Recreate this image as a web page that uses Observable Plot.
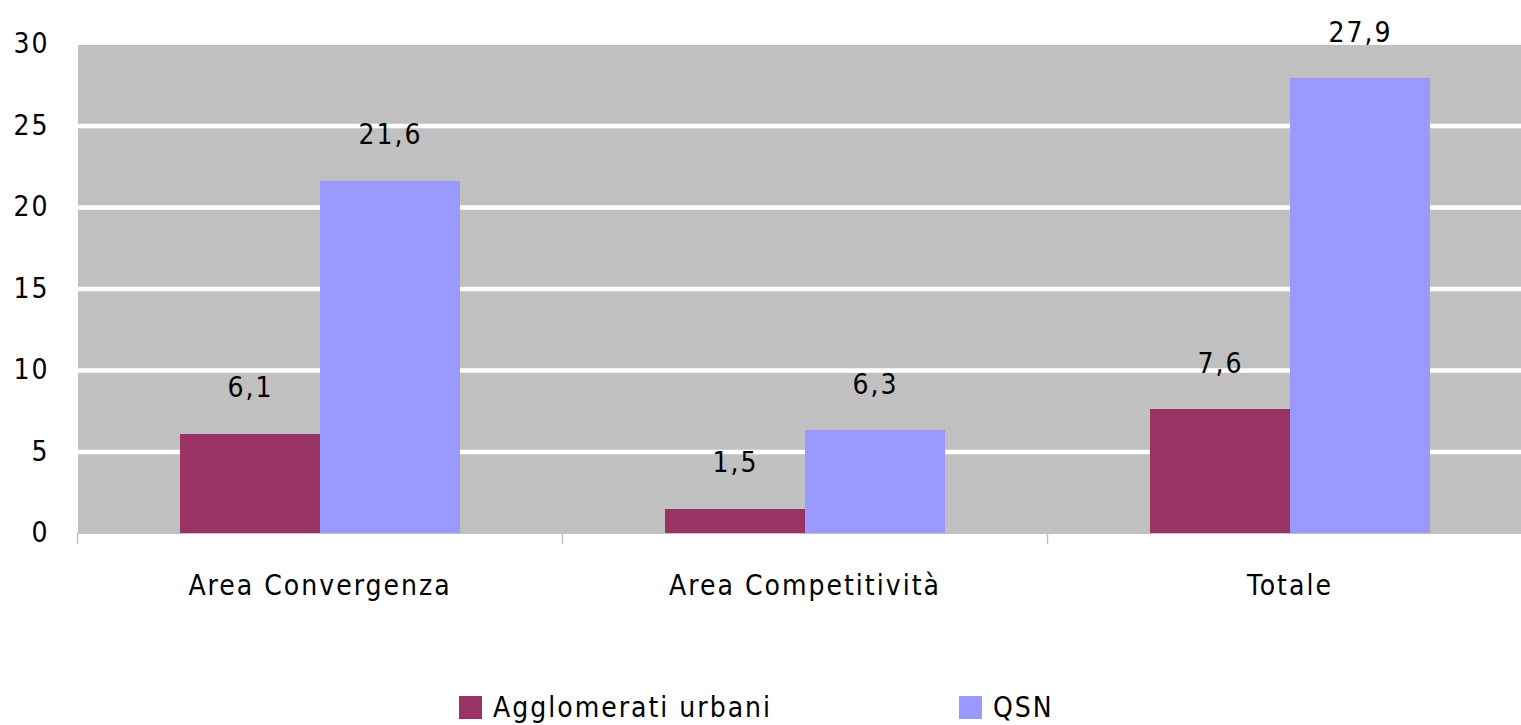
<!DOCTYPE html>
<html>
<head>
<meta charset="utf-8">
<script src="https://cdn.jsdelivr.net/npm/d3@7"></script>
<script src="https://cdn.jsdelivr.net/npm/@observablehq/plot@0.6"></script>
<style>
  html, body { margin: 0; padding: 0; background: white; overflow: hidden; }
  #wrap { position: relative; width: 1521px; height: 725px; }
  .legend { position: absolute; left: 459px; top: 696px; display: flex; font-family: "DejaVu Sans Condensed", "DejaVu Sans", sans-serif; font-size: 28px; letter-spacing: 2px; }
  .legend .item { width: 500px; display: flex; align-items: center; height: 23px; }
  .legend .sw { width: 23px; height: 23px; margin-right: 11px; flex: none; }
</style>
</head>
<body>
<div id="wrap"></div>
<script>
const categories = ["Area Convergenza", "Area Competitività", "Totale"];
const series = ["Agglomerati urbani", "QSN"];
const agglomerati = [6.1, 1.5, 7.6];
const qsn = [21.6, 6.3, 27.9];
const yTicks = [0, 5, 10, 15, 20, 25, 30];
const colors = ["#993366", "#9999ff"];

const data = categories.flatMap((c, i) => [
  {cat: c, ser: series[0], v: agglomerati[i]},
  {cat: c, ser: series[1], v: qsn[i]}
]);
const fmt = v => v.toFixed(1).replace(".", ",");

const chart = Plot.plot({
  width: 1521,
  height: 680,
  marginLeft: 76,
  marginRight: -12,
  marginTop: 44,
  marginBottom: 147,
  style: {fontFamily: "'DejaVu Sans Condensed', 'DejaVu Sans', sans-serif", fontSize: "28px", letterSpacing: "2px", color: "black", overflow: "visible"},
  fx: {domain: categories, padding: 0, label: null, axis: null},
  x: {domain: series, paddingInner: 0, paddingOuter: 0.73, axis: null},
  y: {domain: [0, 30], axis: null},
  color: {domain: series, range: colors},
  marks: [
    Plot.frame({fill: "#c0c0c0", stroke: null, shapeRendering: "crispEdges"}),
    Plot.ruleY(yTicks.filter(t => t > 0 && t < 30), {stroke: "white", strokeWidth: 4.5}),
    Plot.barY(data, {fx: "cat", x: "ser", y: "v", fill: "ser", insetLeft: 0, insetRight: 0, shapeRendering: "crispEdges"}),
    Plot.text(data, {fx: "cat", x: "ser", y: "v", text: d => fmt(d.v), lineAnchor: "bottom", dy: -37, fill: "black", fontSize: 28}),
    Plot.axisY({ticks: yTicks, tickSize: 0, tickPadding: 28, fontSize: 28, tickFormat: d => String(d), label: null}),
    Plot.axisFx({anchor: "bottom", tickSize: 0, tickPadding: 42, fontSize: 28, label: null}),
    Plot.frame({anchor: "left", insetTop: 489, insetBottom: -10, stroke: "#c0c0c0", strokeWidth: 1.5})
  ]
});
document.getElementById("wrap").appendChild(chart);

const legend = document.createElement("div");
legend.className = "legend";
series.forEach((s, i) => {
  const item = document.createElement("div");
  item.className = "item";
  const sw = document.createElement("span");
  sw.className = "sw";
  sw.style.background = colors[i];
  const t = document.createElement("span");
  t.textContent = s;
  item.appendChild(sw);
  item.appendChild(t);
  legend.appendChild(item);
});
document.getElementById("wrap").appendChild(legend);
</script>
</body>
</html>
